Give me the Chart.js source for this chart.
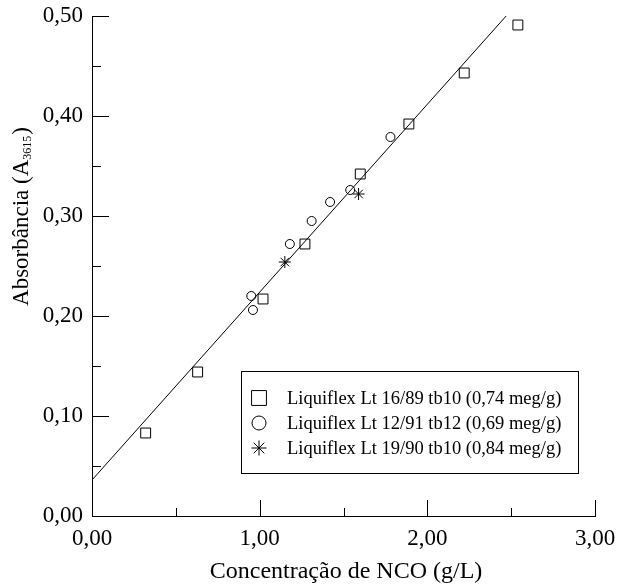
<!DOCTYPE html>
<html>
<head>
<meta charset="utf-8">
<script src="https://cdn.jsdelivr.net/npm/chart.js@4.4.0/dist/chart.umd.min.js"></script>
<style>
  html, body { margin: 0; padding: 0; background: #fff; }
  #wrap { width: 620px; height: 584px; position: relative; }
</style>
</head>
<body>
<div id="wrap"><canvas id="chart"></canvas></div>
<script>
// Series
const lt1689X = [0.32, 0.63, 1.02, 1.27, 1.60, 1.89, 2.22, 2.54];
const lt1689Y = [0.083, 0.144, 0.217, 0.272, 0.342, 0.392, 0.443, 0.491];
const lt1291X = [0.95, 0.96, 1.18, 1.31, 1.42, 1.54, 1.78];
const lt1291Y = [0.220, 0.206, 0.272, 0.295, 0.314, 0.326, 0.379];
const lt1990X = [1.15, 1.59];
const lt1990Y = [0.254, 0.322];
// regression line end points
const fitX = [0.0, 2.47];
const fitY = [0.036, 0.500];

const seriesLabels = [
  'Liquiflex Lt 16/89 tb10 (0,74 meg/g)',
  'Liquiflex Lt 12/91 tb12 (0,69 meg/g)',
  'Liquiflex Lt 19/90 tb10 (0,84 meg/g)'
];
const xTicks = [0, 1, 2, 3];
const yTicks = [0, 0.1, 0.2, 0.3, 0.4, 0.5];
const xMinor = [0.5, 1.5, 2.5];
const yMinor = [0.05, 0.15, 0.25, 0.35, 0.45];

const FONT = '"Liberation Serif", "Times New Roman", serif';

function pts(xs, ys) {
  return xs.map((x, i) => ({ x: x, y: ys[i] }));
}
function fmt(v) {
  return v.toFixed(2).replace('.', ',');
}

// inward ticks, axis titles and boxed legend
const decorations = {
  id: 'decorations',
  afterDraw(chart) {
    const ctx = chart.ctx;
    const xs = chart.scales.x, ys = chart.scales.y;
    const left = xs.left, bottom = ys.bottom;
    ctx.save();
    ctx.strokeStyle = '#000';
    ctx.lineWidth = 1;
    ctx.beginPath();
    xTicks.concat(xMinor).forEach(v => {
      const px = Math.round(xs.getPixelForValue(v)) + 0.5;
      const len = xTicks.includes(v) ? 16 : 8;
      ctx.moveTo(px, bottom);
      ctx.lineTo(px, bottom - len);
    });
    yTicks.concat(yMinor).forEach(v => {
      const py = Math.round(ys.getPixelForValue(v)) + 0.5;
      const len = yTicks.includes(v) ? 17 : 9;
      ctx.moveTo(left, py);
      ctx.lineTo(left + len, py);
    });
    ctx.stroke();

    // x title
    ctx.fillStyle = '#000';
    ctx.font = '24px ' + FONT;
    ctx.textAlign = 'center';
    ctx.textBaseline = 'alphabetic';
    ctx.fillText('Concentração de NCO (g/L)', 346, 578);

    // y title with subscript
    ctx.save();
    ctx.translate(28, 217);
    ctx.rotate(-Math.PI / 2);
    const a = 'Absorbância (A', sub = '3615', b = ')';
    ctx.font = '23px ' + FONT;
    const wa = ctx.measureText(a).width, wb = ctx.measureText(b).width;
    ctx.font = '12px ' + FONT;
    const ws = ctx.measureText(sub).width;
    let x0 = -(wa + ws + wb) / 2;
    ctx.textAlign = 'left';
    ctx.font = '23px ' + FONT;
    ctx.fillText(a, x0, 0);
    ctx.font = '12px ' + FONT;
    ctx.fillText(sub, x0 + wa, 3);
    ctx.font = '23px ' + FONT;
    ctx.fillText(b, x0 + wa + ws + 1, 0);
    ctx.restore();

    // legend box
    const bx = 241.5, by = 371.5, bw = 337, bh = 102;
    ctx.strokeRect(bx, by, bw, bh);
    ctx.font = '18.5px ' + FONT;
    ctx.textBaseline = 'middle';
    ctx.textAlign = 'left';
    const styles = ['rect', 'circle', 'star'];
    const radii = [10.5, 7, 7.5];
    seriesLabels.forEach((label, i) => {
      const cy = 398 + i * 25;
      ctx.fillStyle = 'rgba(0,0,0,0)';
      Chart.helpers.drawPoint(ctx, {
        pointStyle: styles[i], radius: radii[i], rotation: 0, borderWidth: 1
      }, 259, cy);
      ctx.fillStyle = '#000';
      ctx.fillText(label, 287, cy + 1);
    });
    ctx.restore();
  }
};

Chart.defaults.font.family = FONT;
Chart.defaults.color = '#000';

new Chart(document.getElementById('chart'), {
  type: 'scatter',
  data: {
    datasets: [
      {
        label: 'fit',
        type: 'line',
        data: pts(fitX, fitY),
        borderColor: '#000',
        borderWidth: 1,
        pointRadius: 0,
        fill: false
      },
      {
        label: seriesLabels[0],
        data: pts(lt1689X, lt1689Y),
        pointStyle: 'rect',
        pointRadius: 7,
        borderColor: '#000',
        backgroundColor: 'rgba(0,0,0,0)',
        borderWidth: 1
      },
      {
        label: seriesLabels[1],
        data: pts(lt1291X, lt1291Y),
        pointStyle: 'circle',
        pointRadius: 4.5,
        borderColor: '#000',
        backgroundColor: 'rgba(0,0,0,0)',
        borderWidth: 1
      },
      {
        label: seriesLabels[2],
        data: pts(lt1990X, lt1990Y),
        pointStyle: 'star',
        pointRadius: 6,
        borderColor: '#000',
        backgroundColor: 'rgba(0,0,0,0)',
        borderWidth: 1
      }
    ]
  },
  options: {
    responsive: true,
    maintainAspectRatio: false,
    animation: false,
    layout: { padding: { top: 16, right: 25, left: 0, bottom: 0 } },
    plugins: {
      legend: { display: false },
      tooltip: { enabled: false }
    },
    scales: {
      x: {
        type: 'linear',
        min: 0,
        max: 3,
        afterBuildTicks: (scale) => { scale.ticks = xTicks.map(v => ({ value: v })); },
        afterFit: (scale) => {
          scale.height = 68;
          scale.paddingLeft = 0;
          scale.paddingRight = 0;
        },
        ticks: {
          font: { size: 23, family: FONT },
          color: '#000',
          padding: 9,
          maxRotation: 0,
          callback: (v) => fmt(v)
        },
        grid: { drawOnChartArea: false, drawTicks: false },
        border: { display: true, color: '#000', width: 1 }
      },
      y: {
        type: 'linear',
        min: 0,
        max: 0.5,
        afterBuildTicks: (scale) => { scale.ticks = yTicks.map(v => ({ value: v })); },
        afterFit: (scale) => {
          scale.width = 92;
          scale.paddingTop = 0;
          scale.paddingBottom = 0;
        },
        ticks: {
          font: { size: 23, family: FONT },
          color: '#000',
          padding: 9,
          callback: (v) => fmt(v)
        },
        grid: { drawOnChartArea: false, drawTicks: false },
        border: { display: true, color: '#000', width: 1 }
      }
    }
  },
  plugins: [decorations]
});
</script>
</body>
</html>
